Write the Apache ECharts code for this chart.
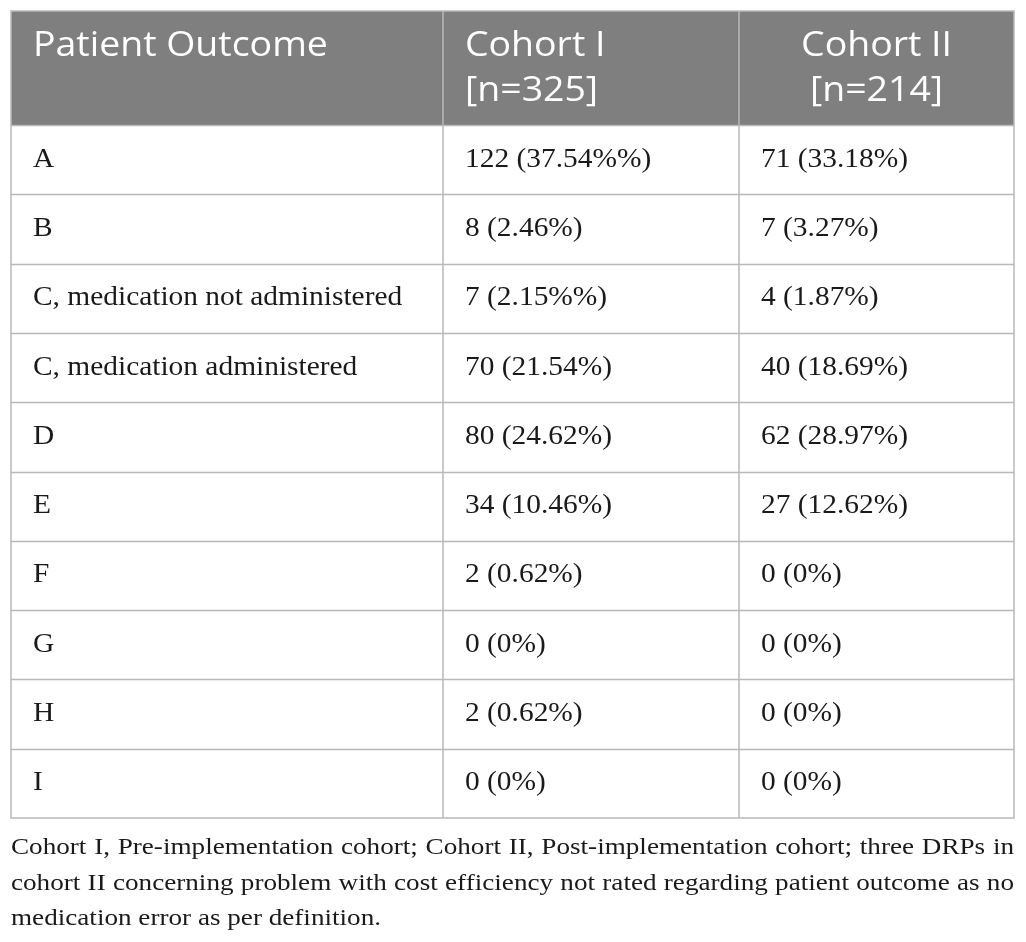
<!DOCTYPE html>
<html>
<head>
<meta charset="utf-8">
<style>
  html, body { margin: 0; padding: 0; background: #fff; }
  #chart { width: 1026px; height: 942px; }
</style>
<script src="https://cdn.jsdelivr.net/npm/echarts@6/dist/echarts.min.js"></script>
</head>
<body>
<div id="chart"></div>
<script>
  const headers = [["Patient Outcome"], ["Cohort I", "[n=325]"], ["Cohort II", "[n=214]"]];
  const outcomes = [
    "A", "B", "C, medication not administered", "C, medication administered",
    "D", "E", "F", "G", "H", "I"
  ];
  const cohort1 = [
    "122 (37.54%%)", "8 (2.46%)", "7 (2.15%%)", "70 (21.54%)", "80 (24.62%)",
    "34 (10.46%)", "2 (0.62%)", "0 (0%)", "2 (0.62%)", "0 (0%)"
  ];
  const cohort2 = [
    "71 (33.18%)", "7 (3.27%)", "4 (1.87%)", "40 (18.69%)", "62 (28.97%)",
    "27 (12.62%)", "0 (0%)", "0 (0%)", "0 (0%)", "0 (0%)"
  ];
  const captionLines = [
    "Cohort I, Pre-implementation cohort; Cohort II, Post-implementation cohort; three DRPs in",
    "cohort II concerning problem with cost efficiency not rated regarding patient outcome as no",
    "medication error as per definition."
  ];

  (function () {
    const tLeft = 11, tRight = 1014, tTop = 11, headBottom = 125, tBottom = 818;
    const colX = [tLeft, 443, 739, tRight];
    const rowH = (tBottom - headBottom) / outcomes.length;
    const lineColor = "#b9b9b9";
    const textColor = "#1a1a1a";
    const headFont = '35px "Open Sans", sans-serif';
    const bodyFont = '26.5px "Liberation Serif", serif';
    const capFont = '23px "Liberation Serif", serif';
    const headScale = 1.07, bodyScale = 1.11, capScale = 1.18;

    // text whose glyphs are widened around its anchor point
    function label(txt, x, y, font, fill, scaleX, align) {
      return {
        type: "text",
        x,
        y,
        scaleX,
        style: {
          text: txt,
          x: 0,
          y: 0,
          fill,
          font,
          align: align || "left",
          verticalAlign: "middle"
        }
      };
    }

    const elements = [];

    // header band
    elements.push({
      type: "rect",
      shape: { x: tLeft, y: tTop, width: tRight - tLeft, height: headBottom - tTop },
      style: { fill: "#7f7f7f" }
    });

    headers.forEach((lines, c) => {
      const centered = c === 2;
      lines.forEach((txt, i) => {
        const x = centered ? (colX[c] + colX[c + 1]) / 2 : colX[c] + 22;
        elements.push(label(txt, x, 46 + i * 45, headFont, "#ffffff", headScale, centered ? "center" : "left"));
      });
    });

    // body rows
    outcomes.forEach((name, r) => {
      const cy = headBottom + rowH * (r + 0.5);
      [name, cohort1[r], cohort2[r]].forEach((txt, c) => {
        elements.push(label(txt, colX[c] + 22, cy, bodyFont, textColor, bodyScale));
      });
    });

    // grid lines
    for (let r = 0; r < outcomes.length; r++) {
      const y = Math.round(headBottom + rowH * r) + 0.5;
      elements.push({
        type: "line",
        shape: { x1: tLeft, y1: y, x2: tRight, y2: y },
        style: { stroke: lineColor, lineWidth: 1.5 }
      });
    }
    [1, 2].forEach((c) => {
      elements.push({
        type: "line",
        shape: { x1: colX[c], y1: tTop, x2: colX[c], y2: tBottom },
        style: { stroke: lineColor, lineWidth: 1.5 }
      });
    });
    elements.push({
      type: "rect",
      shape: { x: tLeft, y: tTop, width: tRight - tLeft, height: tBottom - tTop },
      style: { fill: "none", stroke: lineColor, lineWidth: 1.5 }
    });

    // caption, justified on all but the last line
    const ctx = document.createElement("canvas").getContext("2d");
    ctx.font = capFont;
    captionLines.forEach((line, i) => {
      const y = 848 + i * 35.5;
      if (i === captionLines.length - 1) {
        elements.push(label(line, tLeft, y, capFont, textColor, capScale));
        return;
      }
      const words = line.split(" ");
      const widths = words.map((w) => ctx.measureText(w).width * capScale);
      const total = widths.reduce((a, b) => a + b, 0);
      const gap = (tRight - tLeft - total) / (words.length - 1);
      let x = tLeft;
      words.forEach((w, k) => {
        elements.push(label(w, x, y, capFont, textColor, capScale));
        x += widths[k] + gap;
      });
    });

    const chart = echarts.init(document.getElementById("chart"), null, { renderer: "canvas" });
    chart.setOption({
      animation: false,
      graphic: { elements }
    });
  })();
</script>
</body>
</html>
